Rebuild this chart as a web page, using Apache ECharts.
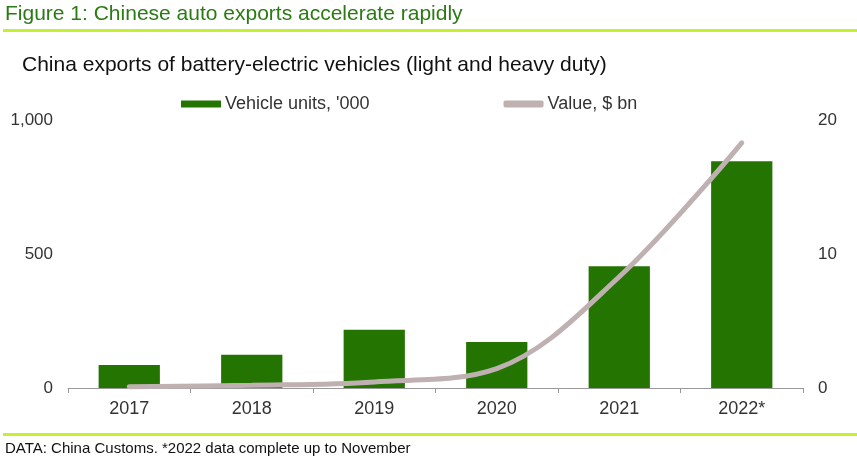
<!DOCTYPE html>
<html>
<head>
<meta charset="utf-8">
<script src="https://cdn.jsdelivr.net/npm/echarts@6/dist/echarts.min.js"></script>
<style>
html,body{margin:0;padding:0;background:#fff;}
#c{width:857px;height:460px;}
</style>
</head>
<body>
<div id="c"></div>
<script>
var categories = ['2017', '2018', '2019', '2020', '2021', '2022*'];
var vehicleUnits = [86, 124, 217, 172, 454, 846];
var valueBn = [0.1, 0.2, 0.45, 1.45, 8.3, 18.3];
var leftTicks = [0, 500, 1000];
var rightTicks = [0, 10, 20];

var FONT = 'Liberation Sans, Arial, sans-serif';
var chart = echarts.init(document.getElementById('c'));
chart.setOption({
  animation: false,
  backgroundColor: '#fff',
  title: [
    { text: 'Figure 1: Chinese auto exports accelerate rapidly', left: 5, top: 4, padding: 0,
      textStyle: { color: '#2b7a14', fontFamily: FONT, fontSize: 21, fontWeight: 'normal' } },
    { text: 'China exports of battery-electric vehicles (light and heavy duty)', left: 22, top: 55, padding: 0,
      textStyle: { color: '#111', fontFamily: FONT, fontSize: 21, fontWeight: 'normal' } },
    { text: 'DATA: China Customs. *2022 data complete up to November', left: 5, top: 441, padding: 0,
      textStyle: { color: '#111', fontFamily: FONT, fontSize: 15, fontWeight: 'normal' } }
  ],
  graphic: [
    { type: 'rect', left: 3, top: 29, shape: { width: 854, height: 3 }, style: { fill: '#c4f02e' } },
    { type: 'rect', left: 3, top: 433, shape: { width: 854, height: 3 }, style: { fill: '#c4f02e' } }
  ],
  legend: {
    top: 95,
    left: 181,
    padding: 0,
    itemGap: 134,
    itemWidth: 40,
    itemHeight: 7,
    textStyle: { color: '#333', fontFamily: FONT, fontSize: 18, padding: [0, 0, 0, -1] },
    data: [
      { name: "Vehicle units, '000", icon: 'rect' },
      { name: 'Value, $ bn', icon: 'roundRect', itemStyle: { color: '#bfb1b1' } }
    ]
  },
  grid: { left: 68, right: 54, top: 120, bottom: 72, containLabel: false },
  xAxis: {
    type: 'category',
    data: categories,
    axisLine: { lineStyle: { color: '#999', width: 1 } },
    axisTick: { show: true, length: 5, inside: false, lineStyle: { color: '#999' } },
    axisLabel: { color: '#333', fontFamily: FONT, fontSize: 18, margin: 12 }
  },
  yAxis: [
    { type: 'value', min: 0, max: 1000, interval: 500,
      axisLine: { show: false }, axisTick: { show: false }, splitLine: { show: false },
      axisLabel: { color: '#333', fontFamily: FONT, fontSize: 17, margin: 15,
        formatter: function (v) { return leftTicks.indexOf(v) >= 0 ? v.toLocaleString('en-US') : ''; } } },
    { type: 'value', min: 0, max: 20, interval: 10,
      axisLine: { show: false }, axisTick: { show: false }, splitLine: { show: false },
      axisLabel: { color: '#333', fontFamily: FONT, fontSize: 17, margin: 15,
        formatter: function (v) { return rightTicks.indexOf(v) >= 0 ? String(v) : ''; } } }
  ],
  series: [
    { name: "Vehicle units, '000", type: 'bar', data: vehicleUnits, barWidth: '50%',
      itemStyle: { color: '#237400' } },
    { name: 'Value, $ bn', type: 'line', yAxisIndex: 1, data: valueBn, smooth: 0.35,
      symbol: 'none', lineStyle: { color: '#bfb1b1', width: 5, cap: 'round' },
      itemStyle: { color: '#bfb1b1' } }
  ]
});
</script>
</body>
</html>
